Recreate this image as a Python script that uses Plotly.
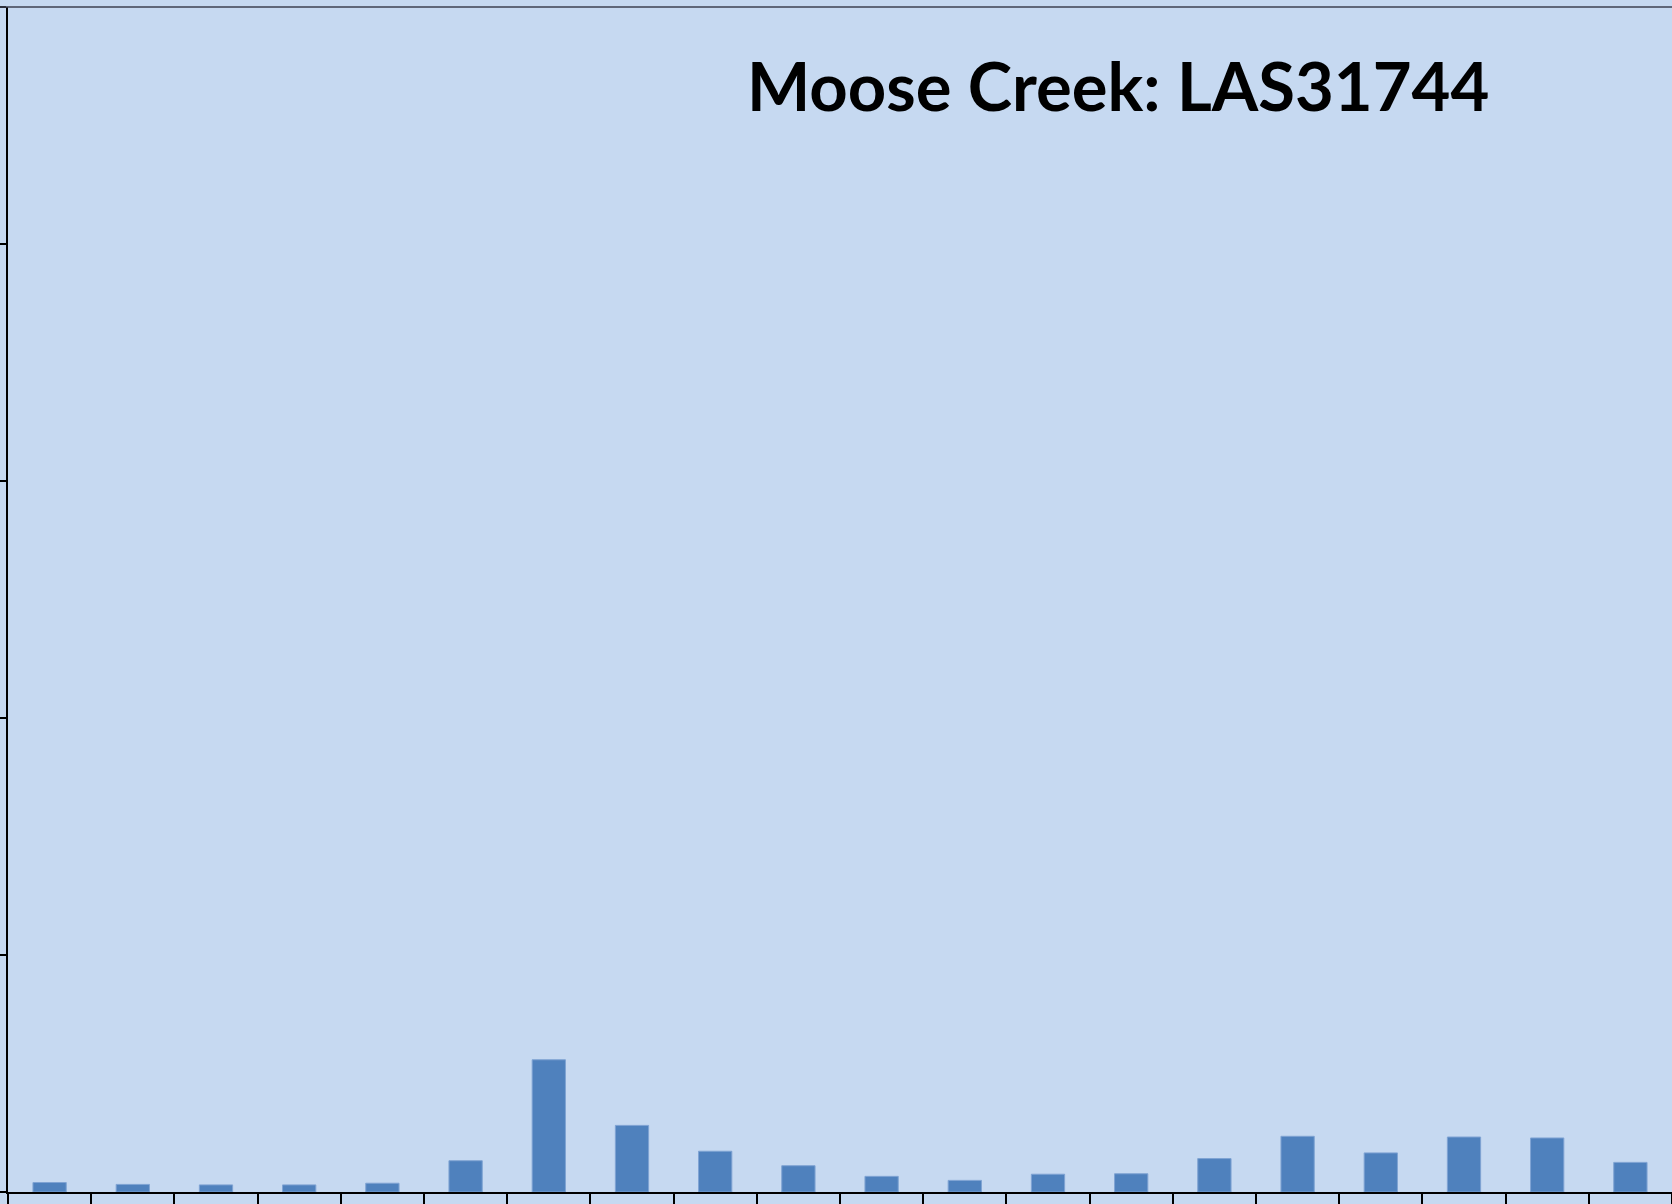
import plotly.graph_objects as go

# Data (y-axis ticks every 10 units, 0-50; labels hidden)
categories = [f"Bin {i}" for i in range(1, 21)]
values = [0.40, 0.32, 0.30, 0.30, 0.37, 1.32, 5.58, 2.81, 1.72, 1.11,
          0.66, 0.49, 0.75, 0.77, 1.41, 2.35, 1.65, 2.32, 2.28, 1.25]
y_ticks = [0, 10, 20, 30, 40, 50]
title_text = "Moose Creek: LAS31744"

BG = "#C6D9F1"
BAR = "#4F81BD"

fig = go.Figure()
fig.add_trace(go.Bar(
    x=categories,
    y=values,
    marker=dict(color=BAR, line=dict(color="#7FA3D3", width=1)),
    showlegend=False,
    hoverinfo="x+y",
))

fig.update_layout(
    width=1672, height=1204,
    margin=dict(l=8, r=0, t=7, b=12, pad=0),
    paper_bgcolor=BG, plot_bgcolor=BG,
    bargap=0.6,
    showlegend=False,
    xaxis=dict(
        type="category", range=[-0.5, 19.5],
        showline=True, linecolor="black", linewidth=2,
        ticks="outside", ticklen=12, tickwidth=2, tickcolor="black",
        tickson="boundaries", showticklabels=False, showgrid=False,
        zeroline=False, fixedrange=True,
    ),
    yaxis=dict(
        range=[0, 50], tickvals=y_ticks,
        showline=True, linecolor="black", linewidth=2,
        ticks="outside", ticklen=8, tickwidth=2, tickcolor="black",
        showticklabels=False, showgrid=False, zeroline=False, fixedrange=True,
    ),
    shapes=[dict(type="line", xref="paper", yref="paper",
                 x0=-0.01, x1=1.0, y0=1, y1=1,
                 line=dict(color="#3C4050", width=1.5))],
    annotations=[dict(
        text=f"<b>{title_text}</b>", xref="paper", yref="paper",
        x=0.667, y=0.934, xanchor="center", yanchor="middle",
        showarrow=False,
        font=dict(family="Lato, 'Open Sans', sans-serif", size=67,
                  color="black"),
    )],
)

fig.write_html(
    "out.html",
    config={"displayModeBar": False},
    post_script="document.body.style.margin='0';document.body.style.overflow='hidden';",
)
